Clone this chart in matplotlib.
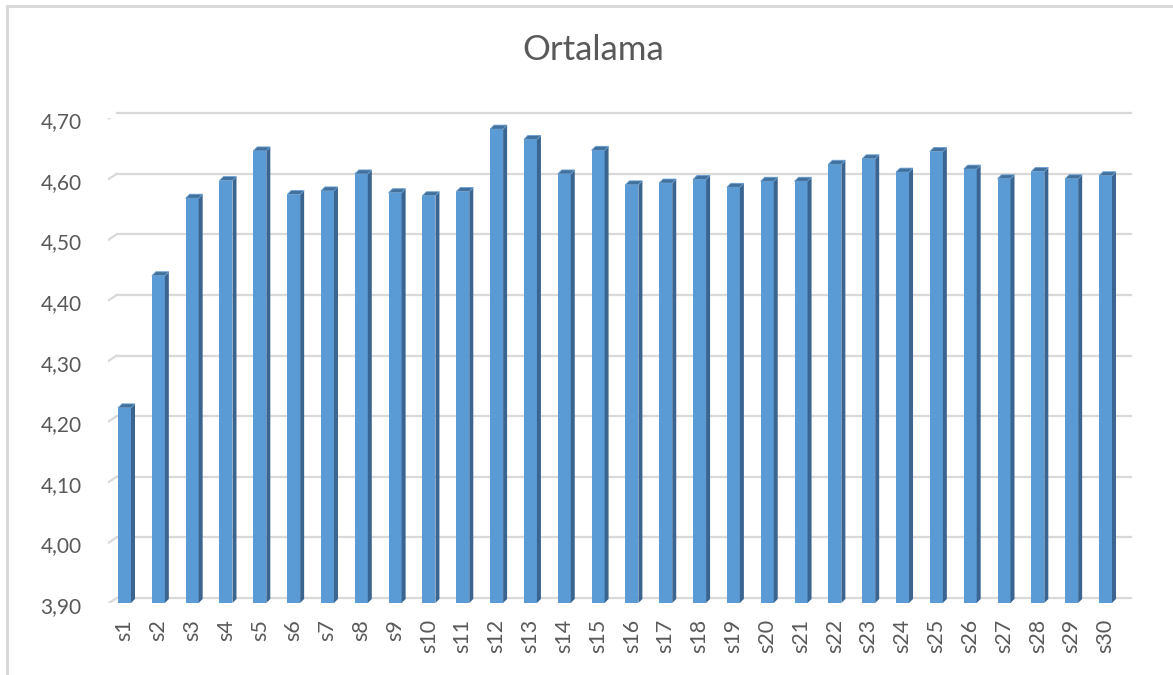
import matplotlib
matplotlib.use("Agg")
import matplotlib.pyplot as plt
from matplotlib.patches import Polygon, Rectangle
from matplotlib.transforms import offset_copy, IdentityTransform

categories = [f"s{i}" for i in range(1, 31)]
values = [4.222, 4.440, 4.568, 4.597, 4.646, 4.574, 4.580, 4.608, 4.577, 4.572,
          4.579, 4.682, 4.665, 4.608, 4.647, 4.590, 4.593, 4.599, 4.586, 4.596,
          4.596, 4.624, 4.633, 4.611, 4.645, 4.616, 4.600, 4.612, 4.600, 4.605]
yticks = [3.90, 4.00, 4.10, 4.20, 4.30, 4.40, 4.50, 4.60, 4.70]
ytick_labels = [f"{v:.2f}".replace(".", ",") for v in yticks]
title = "Ortalama"

W, H = 1173, 675
DPI = 100
plt.rcParams['font.family'] = ['Lato', 'DejaVu Sans']
fig = plt.figure(figsize=(W / DPI, H / DPI), dpi=DPI)

# axes: front plane of bars (pixel coords)
x0, x1 = 107.6, 1122.4
ybot, ytop = 603, 118.2
ax = fig.add_axes([x0 / W, 1 - ybot / H, (x1 - x0) / W, (ybot - ytop) / H])
ax.set_xlim(-0.5, len(categories) - 0.5)
ax.set_ylim(3.90, 4.70)
ax.axis('off')
ax.patch.set_alpha(0)

# border of chart area
fig.patches.append(Rectangle((6.5, -10), W + 20, H - 5.5 + 10, transform=IdentityTransform(),
                             fill=False, edgecolor='#d9d9d9', linewidth=2.2, zorder=0))

grid_c = '#d9d9d9'
back = offset_copy(ax.transData, fig=fig, x=9, y=5, units='dots')
front = offset_copy(ax.transData, fig=fig, x=-4.6, y=-4, units='dots')
label_tr = offset_copy(ax.transData, fig=fig, x=-26, y=-4, units='dots')
for v, lab in zip(yticks, ytick_labels):
    ax.plot([-0.5, len(categories) - 0.5], [v, v], color=grid_c, lw=1.6,
            transform=back, clip_on=False, zorder=1)
    p_front = front.transform((-0.5, v))
    p_back = back.transform((-0.5, v))
    ax.add_line(plt.Line2D([p_front[0], p_back[0]], [p_front[1], p_back[1]],
                           color=grid_c, lw=1.6, transform=IdentityTransform(), zorder=1))
    ax.text(-0.5, v, lab, transform=label_tr,
            ha='right', va='center', fontsize=15, color='#595959')

bw = 0.384
dx, dy = 4, 4
front_c = '#5b9bd5'
side_c = '#3b6591'
top_c = '#41719c'
bars = ax.bar(range(len(categories)), [v - 3.90 for v in values], bottom=3.90, width=bw,
              color=front_c, edgecolor='none', zorder=3)
for i, v in enumerate(values):
    (lx, by) = ax.transData.transform((i - bw / 2, 3.90))
    (rx, ty) = ax.transData.transform((i + bw / 2, v))
    side = Polygon([(rx, by), (rx + dx, by + dy), (rx + dx, ty + dy), (rx, ty)],
                   closed=True, transform=IdentityTransform(), facecolor=side_c,
                   edgecolor='none', zorder=2)
    top = Polygon([(lx, ty), (rx, ty), (rx + dx, ty + dy), (lx + dx, ty + dy)],
                  closed=True, transform=IdentityTransform(), facecolor=top_c,
                  edgecolor='#6a9fd0', linewidth=0.6, zorder=4)
    fig.patches.extend([side, top])

ax.set_zorder(2)

# category labels
cat_tr = offset_copy(ax.transData, fig=fig, x=0, y=-16, units='dots')
for i, c in enumerate(categories):
    ax.text(i, 3.90, c, transform=cat_tr,
            rotation=90, ha='center', va='top', fontsize=15.5, color='#595959')

fig.text(593 / W, 1 - 50 / H, title, ha='center', va='center', fontsize=25, color='#595959')

fig.savefig("out.png", dpi=DPI)
